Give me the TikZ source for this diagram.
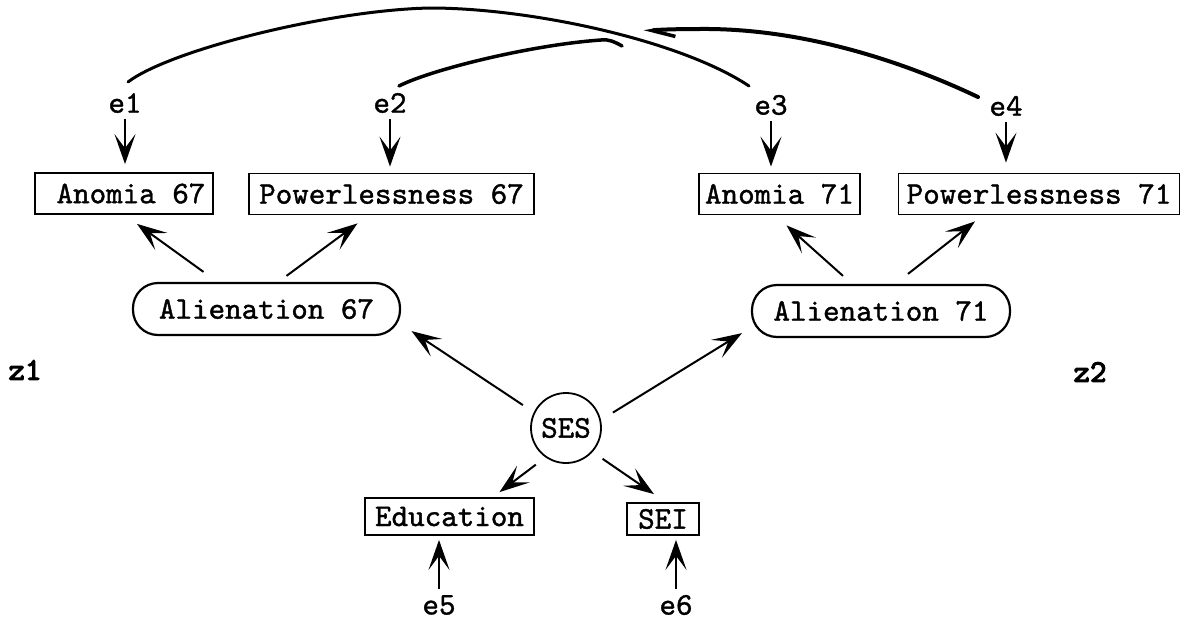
\documentclass[tikz,border=0pt]{standalone}
\usepackage{fontspec}
\usetikzlibrary{arrows.meta}
% typewriter face, slightly emboldened like a worn ribbon
\newfontfamily\tw{lmmono10-regular.otf}[FakeBold=1.2]
\newfontfamily\twheavy{lmmono10-regular.otf}[FakeBold=3.5]
\begin{document}
\begin{tikzpicture}[x=1pt,y=-1pt,
  txt/.style={font=\fontsize{31.5}{34}\tw, inner sep=0pt},
  errlbl/.style={txt},
  distlbl/.style={txt, font=\fontsize{31.5}{34}\twheavy},
  obsbox/.style={txt, draw, line width=1.8pt},
  latbox/.style={txt, draw, line width=2.2pt, rounded corners=25pt},
  latcirc/.style={txt, draw, circle, line width=1.8pt},
  patharrow/.style={line width=2pt, -{Stealth[length=30pt,width=21pt,inset=14pt]}},
  corr/.style={line width=3.5pt, line cap=round},
]
\useasboundingbox (0,0) rectangle (1181,621);

% measurement errors
\node[errlbl] (e1) at (125,103) {e1};
\node[errlbl] (e2) at (390,103) {e2};
\node[errlbl] (e3) at (771,105) {e3};
\node[errlbl] (e4) at (1006,106) {e4};
\node[errlbl] (e5) at (439,605) {e5};
\node[errlbl] (e6) at (676,605) {e6};

% observed indicators
\node[obsbox, minimum width=178pt, minimum height=41pt] (an67) at (124,193.5) {\hspace*{14pt}Anomia 67};
\node[obsbox, minimum width=285pt, minimum height=41pt] (pw67) at (391.5,194) {Powerlessness 67};
\node[obsbox, minimum width=161pt, minimum height=41pt] (an71) at (779.5,194) {Anomia 71};
\node[obsbox, minimum width=281pt, minimum height=41pt] (pw71) at (1039,194) {Powerlessness 71};
\node[obsbox, minimum width=169pt, minimum height=37pt] (edu) at (449.5,516.5) {Education};
\node[obsbox, minimum width=72pt, minimum height=32pt] (sei) at (663,519) {SEI};

% latent variables
\node[latbox, minimum width=267pt, minimum height=52pt] (al67) at (266.5,309) {Alienation 67};
\node[latbox, minimum width=258pt, minimum height=52pt] (al71) at (881,311) {Alienation 71};
\node[latcirc, minimum size=70pt] (ses) at (566,428) {SES};

% disturbances
\node[distlbl] (z1) at (25,370) {z1};
\node[distlbl] (z2) at (1090,372) {z2};

% error paths
\draw[patharrow, shorten <=6pt, shorten >=8pt] (e1) -- (e1 |- an67.north);
\draw[patharrow, shorten <=6pt, shorten >=6pt] (e2) -- (e2 |- pw67.north);
\draw[patharrow, shorten <=6pt, shorten >=6pt] (e3) -- (e3 |- an71.north);
\draw[patharrow, shorten <=6pt, shorten >=10pt] (e4) -- (e4 |- pw71.north);
\draw[patharrow, shorten <=6pt, shorten >=4pt] (e5) -- (e5 |- edu.south);
\draw[patharrow, shorten <=6pt, shorten >=4pt] (e6) -- (e6 |- sei.south);

% loadings
\draw[patharrow] ([xshift=-63pt,yshift=10pt]al67.north) -- ([xshift=13pt,yshift=-9pt]an67.south);
\draw[patharrow] ([xshift=20pt,yshift=6pt]al67.north) -- ([xshift=-34pt,yshift=-8pt]pw67.south);
\draw[patharrow] ([xshift=-38pt,yshift=8pt]al71.north) -- ([xshift=7pt,yshift=-10pt]an71.south);
\draw[patharrow] ([xshift=27pt,yshift=10pt]al71.north) -- ([xshift=-64pt,yshift=-6pt]pw71.south);

% structural paths from SES
\draw[patharrow, shorten <=13pt] (ses.154) -- ([xshift=145pt,yshift=5pt]al67.south);
\draw[patharrow, shorten <=14pt] (ses.13) -- ([xshift=-139pt,yshift=5pt]al71.south);
\draw[patharrow, shorten <=12pt] (ses.235) -- ([xshift=50pt,yshift=5pt]edu.north);
\draw[patharrow, shorten <=12pt] (ses.318) -- ([xshift=-9pt,yshift=8pt]sei.north);

% correlated errors
\draw[corr, line width=3pt] ([xshift=3pt,yshift=21pt]e1.center)
  .. controls (170,50) and (330,10) .. (430,8)
  .. controls (530,8) and (680,40) .. ([xshift=-22pt,yshift=19pt]e3.center);
\draw[corr] ([xshift=9pt,yshift=17pt]e2.center)
  .. controls (430,70) and (530,45) .. (601,40)
  .. controls (609,39) and (615,42) .. (622,46);
\draw[corr, line width=4pt, -{Straight Barb[harpoon,length=22pt,width=20pt,line width=3.5pt]}]
  ([xshift=-28pt,yshift=9pt]e4.center)
  .. controls (900,60) and (800,28) .. (700,29)
  .. controls (670,29) and (655,30) .. (644,32);
\end{tikzpicture}
\end{document}
